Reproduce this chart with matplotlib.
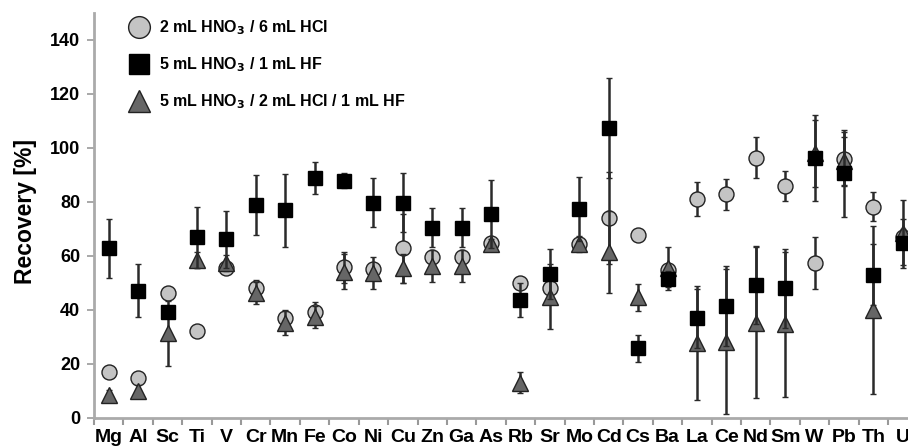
import matplotlib
matplotlib.use("Agg")
import matplotlib.pyplot as plt
import numpy as np

plt.rcParams['font.family'] = ['Liberation Sans', 'DejaVu Sans']

elements = ["Mg", "Al", "Sc", "Ti", "V", "Cr", "Mn", "Fe", "Co", "Ni", "Cu", "Zn", "Ga", "As",
            "Rb", "Sr", "Mo", "Cd", "Cs", "Ba", "La", "Ce", "Nd", "Sm", "W", "Pb", "Th", "U"]

# 2 mL HNO3 / 6 mL HCl
hcl_mean = [16.9, 14.7, 46.4, 32.3, 55.4, 48.0, 36.9, 39.4, 55.8, 55.1, 62.8, 59.8, 59.8, 64.9,
            50.1, 48.3, 64.4, 74.0, 67.8, 54.8, 81.1, 82.8, 96.4, 85.9, 57.5, 95.8, 78.3, 67.0]
hcl_err = [1.0, 1.0, 1.0, 0.5, 1.0, 3.0, 3.0, 3.5, 5.8, 2.0, 12.8, 2.0, 2.0, 2.0,
           1.0, 2.0, 2.0, 17.0, 2.0, 2.0, 6.4, 5.7, 7.5, 5.7, 9.7, 10.0, 5.5, 3.0]

# 5 mL HNO3 / 1 mL HF
hf_mean = [62.8, 47.2, 39.1, 66.9, 66.2, 78.9, 77.0, 88.8, 87.9, 79.8, 79.8, 70.5, 70.5, 75.6,
           43.7, 53.3, 77.4, 107.3, 25.8, 51.5, 36.9, 41.6, 49.3, 48.0, 96.2, 90.6, 53.0, 64.7]
hf_err = [11.0, 9.7, 2.0, 11.4, 10.6, 11.0, 13.5, 6.0, 2.7, 9.2, 10.8, 7.2, 7.2, 12.5,
          6.2, 9.3, 12.0, 18.6, 5.0, 3.0, 11.0, 14.8, 14.5, 14.6, 16.0, 16.0, 11.3, 9.0]

# 5 mL HNO3 / 2 mL HCl / 1 mL HF
mix_mean = [8.5, 10.1, 31.4, 58.5, 57.3, 46.4, 35.3, 37.5, 54.2, 53.6, 55.4, 56.4, 56.4, 64.4,
            13.1, 44.9, 64.4, 61.6, 44.7, 55.4, 27.7, 28.3, 35.3, 34.7, 98.0, 95.2, 40.0, 68.6]
mix_err = [2.0, 2.0, 12.0, 3.0, 3.0, 4.0, 4.5, 4.0, 6.5, 6.0, 5.3, 6.0, 6.0, 2.0,
           4.0, 12.0, 3.0, 15.2, 5.0, 8.0, 21.0, 27.0, 28.0, 26.8, 12.5, 9.0, 31.0, 12.0]

x = np.arange(len(elements))

fig = plt.figure(figsize=(9.08, 4.48), dpi=100)
ax = fig.add_axes([0.1035, 0.067, 0.907, 0.904])

ecol = '#2a2a2a'
ax.errorbar(x, hcl_mean, yerr=hcl_err, fmt='o', ms=10.8, mfc='#c4c4c4', mec='#222222', mew=1.0,
            ecolor=ecol, elinewidth=1.8, capsize=2.5, capthick=1.8, zorder=3,
            label=r'2 mL HNO$_\mathbf{3}$ / 6 mL HCl')
ax.errorbar(x, hf_mean, yerr=hf_err, fmt='s', ms=9.6, mfc='black', mec='black', mew=1.0,
            ecolor=ecol, elinewidth=1.8, capsize=2.5, capthick=1.8, zorder=5,
            label=r'5 mL HNO$_\mathbf{3}$ / 1 mL HF')
ax.errorbar(x, mix_mean, yerr=mix_err, fmt='^', ms=11, mfc='#666666', mec='#222222', mew=1.0,
            ecolor=ecol, elinewidth=1.8, capsize=2.5, capthick=1.8, zorder=4,
            label=r'5 mL HNO$_\mathbf{3}$ / 2 mL HCl / 1 mL HF')

ax.set_xlim(-0.5, len(elements) - 0.5)
ax.set_ylim(0, 150)
ax.set_yticks(np.arange(0, 141, 20))
ax.set_xticks(x)
ax.set_xticklabels(elements, fontsize=14, fontweight='bold')
ax.set_xticks(np.arange(-0.5, len(elements), 1), minor=True)
ax.tick_params(axis='x', which='major', length=0, pad=8)
ax.tick_params(axis='x', which='minor', length=5, width=1.5, color='#999999')
ax.tick_params(axis='y', length=5, width=1.2, color='#999999', labelsize=13, pad=5)
for lab in ax.get_yticklabels():
    lab.set_fontweight('bold')
ax.set_ylabel('Recovery [%]', fontsize=16.5, fontweight='bold', labelpad=10)
ax.yaxis.set_label_coords(-0.069, 0.51)

for s in ['top', 'right']:
    ax.spines[s].set_visible(False)
for s in ['left', 'bottom']:
    ax.spines[s].set_color('#aaaaaa')
    ax.spines[s].set_linewidth(2)

handles, labels = ax.get_legend_handles_labels()
handles = [h[0] for h in handles]
leg = ax.legend(handles, labels, loc='upper left', bbox_to_anchor=(0.025, 1.022), frameon=False,
                prop={'weight': 'bold', 'size': 11.5}, labelspacing=1.15, handletextpad=0.6,
                handlelength=1.3, markerscale=1.45)

fig.savefig('out.png', dpi=100)
